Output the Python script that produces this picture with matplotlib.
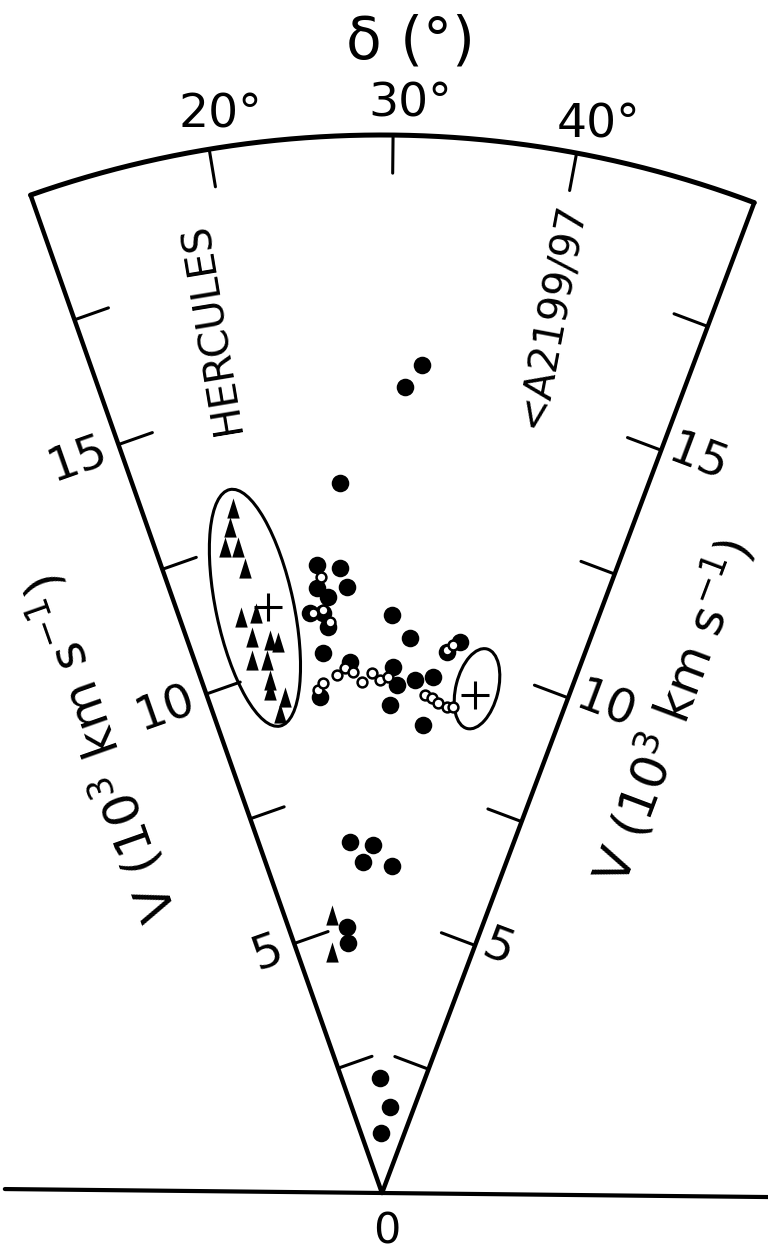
import numpy as np
import matplotlib.pyplot as plt
from matplotlib.patches import Ellipse
from matplotlib.path import Path

plt.rcParams['font.family'] = ['DejaVu Sans']

DEC0 = 29.4      # declination that points straight up in the drawing
V_MAX = 20.0     # outer arc, 10^3 km/s
DEC_LO, DEC_HI = 10, 50

# filled circles: velocity (10^3 km/s) and declination (deg)
dot_v = [2.17, 1.63, 1.13, 6.66, 6.58, 6.27, 6.19, 5.07, 4.77,
         15.67, 15.24, 13.44, 11.94, 11.84, 11.47, 11.50, 11.31, 11.05,
         11.02, 10.75, 10.93, 10.50, 10.27, 9.45, 10.06, 9.95, 9.61,
         9.72, 9.80, 9.23, 8.88, 10.52, 10.30]
dot_dec = [28.4, 34.7, 28.4, 24.2, 27.9, 26.1, 31.2, 21.9, 21.7,
           32.2, 31.0, 26.0, 23.5, 25.6, 26.1, 23.3, 24.2, 22.3,
           23.6, 24.0, 30.4, 32.3, 23.2, 22.3, 26.0, 30.6, 31.1,
           33.1, 35.0, 30.3, 34.4, 37.5, 36.3]

# open circles (chains)
ring_v = [9.59, 9.71, 9.83, 9.95, 9.86, 9.67, 9.83, 9.70, 9.75,
          9.45, 9.40, 9.32, 9.27, 9.29, 10.34, 10.45,
          11.70, 11.08, 10.84, 11.04]
ring_dec = [22.2, 22.8, 24.4, 25.4, 26.2, 27.2, 28.3, 29.2, 30.1,
            34.3, 35.2, 35.9, 37.0, 37.7, 36.2, 36.8,
            23.7, 23.6, 24.2, 22.6]

# triangles
tri_v = [13.25, 12.91, 12.57, 12.51, 12.09, 11.21, 11.22, 10.79, 10.67,
         10.60, 10.37, 10.31, 9.93, 9.74, 9.55, 9.28, 5.34, 4.65]
tri_dec = [17.1, 16.5, 15.7, 16.8, 17.0, 15.6, 17.1, 16.2, 18.0,
           18.7, 15.7, 17.2, 17.1, 16.8, 18.3, 17.4, 19.2, 17.7]

# cluster centres (+)
cen_v = [11.29, 9.58]
cen_dec = [18.4, 40.0]

# cluster ellipses: centre V, centre dec, minor, major
ell_v = [11.32, 9.70]
ell_dec = [17.15, 40.07]
ell_w = [1.47, 0.80]
ell_h = [4.57, 1.55]
ell_ang = [12.0, -14.0]

v_ticks = [2.5, 5, 7.5, 10, 12.5, 15, 17.5]
v_labels = {5: '5', 10: '10', 15: '15'}
dec_ticks = [20, 30, 40]


def to_xy(v, dec):
    t = np.radians(np.asarray(dec, dtype=float) - DEC0)
    v = np.asarray(v, dtype=float)
    return v * np.sin(t), v * np.cos(t)


fig = plt.figure(figsize=(7.68, 12.53), dpi=100)
ax = fig.add_axes([0, 0, 1, 1])
s = 52.9  # pixels per unit
ax.set_xlim(-382 / s, 386 / s)
ax.set_ylim(-60 / s, 1193 / s)
ax.axis('off')

k = dict(color='black', solid_capstyle='round', solid_joinstyle='round')

# wedge outline
for d in (DEC_LO, DEC_HI):
    x, y = to_xy([0, V_MAX], [d, d])
    ax.plot(x, y, lw=3.2, **k)
arc = np.linspace(DEC_LO, DEC_HI, 300)
x, y = to_xy(np.full_like(arc, V_MAX), arc)
ax.plot(x, y, lw=3.6, **k)

# base line, perpendicular to the 30 deg direction
bx, by = to_xy([-7.13, 7.5], [120, 120])
ax.plot(bx, by, lw=3.0, **k)

# ticks along the two straight edges
tick_len = 0.68
for v in v_ticks:
    for d, sgn in ((DEC_LO, 1), (DEC_HI, -1)):
        t = np.radians(d - DEC0)
        px, py = to_xy(v, d)
        nx, ny = sgn * np.cos(t), -sgn * np.sin(t)
        ax.plot([px, px + nx * tick_len], [py, py + ny * tick_len], lw=2.2, **k)
    if v in v_labels:
        # left edge label
        t = np.radians(DEC_LO - DEC0)
        px, py = to_xy(v, DEC_LO)
        ax.text(px - np.cos(t) * 0.25, py + np.sin(t) * 0.25, v_labels[v],
                rotation=DEC0 - DEC_LO, rotation_mode='anchor',
                ha='right', va='center', fontsize=34)
        # right edge label
        t = np.radians(DEC_HI - DEC0)
        px, py = to_xy(v, DEC_HI)
        ax.text(px + np.cos(t) * 0.15 + np.sin(t) * 0.1,
                py - np.sin(t) * 0.15 + np.cos(t) * 0.1, v_labels[v],
                rotation=DEC0 - DEC_HI, rotation_mode='anchor',
                ha='left', va='center', fontsize=34)

# ticks on the outer arc
for d in dec_ticks:
    x, y = to_xy([V_MAX, V_MAX - 0.72], [d, d])
    ax.plot(x, y, lw=2.2, **k)
    tx, ty = to_xy(20.6, d + 0.87)
    ax.text(tx, ty, f'{d}°', ha='center', va='center', fontsize=34)

tx, ty = to_xy(21.76, 30.8)
ax.text(tx, ty, 'δ (°)', ha='center', va='center', fontsize=42)
ax.text(0.1, -0.72, '0', ha='center', va='center', fontsize=31)

# axis titles along the edges
lab = r'V (10$^3$ km s$^{-1}$)'
tx, ty = to_xy(9.95, -2.9)
ax.text(tx, ty, lab, rotation=90 + DEC0 - DEC_LO, rotation_mode='anchor',
        ha='center', va='center', fontsize=36)
tx, ty = to_xy(10.62, 60.5)
ax.text(tx, ty, lab, rotation=90 + DEC0 - DEC_HI, rotation_mode='anchor',
        ha='center', va='center', fontsize=36)

# cluster names, written radially
tx, ty = to_xy(16.66, 18.3)
ax.text(tx, ty, 'HERCULES', rotation=90 + DEC0 - 20, rotation_mode='anchor',
        ha='center', va='center', fontsize=29)
tx, ty = to_xy(16.91, 40.4)
ax.text(tx, ty, '<A2199/97', rotation=90 + DEC0 - 40, rotation_mode='anchor',
        ha='center', va='center', fontsize=29)

# cluster ellipses
for v, d, w, h, a in zip(ell_v, ell_dec, ell_w, ell_h, ell_ang):
    cx, cy = to_xy(v, d)
    ax.add_patch(Ellipse((cx, cy), w, h, angle=a, fill=False,
                         lw=2.2, ec='black'))

# galaxies
x, y = to_xy(dot_v, dot_dec)
ax.scatter(x, y, s=160, c='black', lw=0, zorder=3)

x, y = to_xy(ring_v, ring_dec)
ax.scatter(x, y, s=50, c='white', edgecolors='black', lw=1.8, zorder=4)

tri = Path([(0, 1), (-0.62, -1), (0.62, -1), (0, 1)],
           [Path.MOVETO, Path.LINETO, Path.LINETO, Path.CLOSEPOLY])
x, y = to_xy(tri_v, tri_dec)
ax.scatter(x, y, s=210, c='black', marker=tri, lw=0, zorder=3)

x, y = to_xy(cen_v, cen_dec)
ax.plot(x, y, '+', color='black', ms=20, mew=2.2, zorder=5)

fig.savefig('out.png', dpi=100)
